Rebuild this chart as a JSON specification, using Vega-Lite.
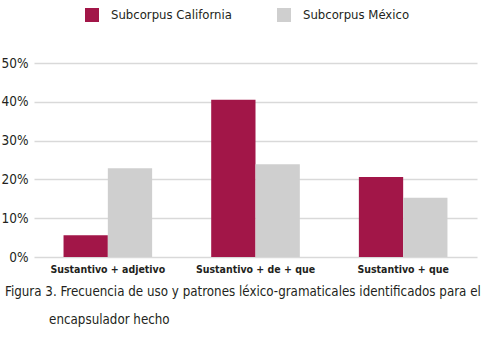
{
  "$schema": "https://vega.github.io/schema/vega-lite/v6.json",
  "width": 443,
  "height": 194,
  "autosize": {"type": "none"},
  "padding": {"left": 34, "top": 63, "right": 6, "bottom": 97},
  "background": "white",
  "data": {
    "values": [
      {"patron": "Sustantivo + adjetivo", "subcorpus": "Subcorpus California", "valor": 5.6},
      {"patron": "Sustantivo + adjetivo", "subcorpus": "Subcorpus México", "valor": 22.9},
      {"patron": "Sustantivo + de + que", "subcorpus": "Subcorpus California", "valor": 40.5},
      {"patron": "Sustantivo + de + que", "subcorpus": "Subcorpus México", "valor": 23.9},
      {"patron": "Sustantivo + que", "subcorpus": "Subcorpus California", "valor": 20.6},
      {"patron": "Sustantivo + que", "subcorpus": "Subcorpus México", "valor": 15.3}
    ]
  },
  "title": {
    "text": [
      "Figura 3. Frecuencia de uso y patrones léxico-gramaticales identificados para el",
      "\u200b\u2003\u2003\u2003\u2002\u2009encapsulador hecho"
    ],
    "orient": "bottom",
    "anchor": "start",
    "frame": "group",
    "dx": -29,
    "offset": 11,
    "fontSize": 13.25,
    "fontWeight": "normal",
    "lineHeight": 28,
    "color": "#231F20"
  },
  "mark": {"type": "bar"},
  "encoding": {
    "x": {
      "field": "patron",
      "type": "nominal",
      "sort": ["Sustantivo + adjetivo", "Sustantivo + de + que", "Sustantivo + que"],
      "scale": {"paddingInner": 0.4, "paddingOuter": 0.2},
      "axis": {
        "title": null,
        "labelAngle": 0,
        "domain": false,
        "ticks": false,
        "labelFontWeight": "bold",
        "labelFontSize": 10.5,
        "labelPadding": 7,
        "labelColor": "#231F20"
      }
    },
    "xOffset": {
      "field": "subcorpus",
      "sort": ["Subcorpus California", "Subcorpus México"]
    },
    "y": {
      "field": "valor",
      "type": "quantitative",
      "scale": {"domain": [0, 50]},
      "axis": {
        "title": null,
        "values": [0, 10, 20, 30, 40, 50],
        "labelExpr": "datum.value + '%'",
        "domain": false,
        "ticks": false,
        "labelPadding": 6,
        "labelFontSize": 13.5,
        "labelColor": "#231F20",
        "gridColor": "#D9D9D9",
        "gridWidth": 1.5
      }
    },
    "color": {
      "field": "subcorpus",
      "type": "nominal",
      "scale": {
        "domain": ["Subcorpus California", "Subcorpus México"],
        "range": ["#A21648", "#CFCFCF"]
      },
      "legend": {
        "title": null,
        "orient": "none",
        "direction": "horizontal",
        "legendX": 51,
        "legendY": -55,
        "symbolType": "square",
        "symbolSize": 196,
        "symbolStrokeWidth": 0,
        "labelFontSize": 13,
        "labelOffset": 12,
        "labelColor": "#231F20",
        "columnPadding": 45
      }
    }
  },
  "config": {
    "font": "DejaVu Sans Condensed",
    "view": {"stroke": null}
  }
}
